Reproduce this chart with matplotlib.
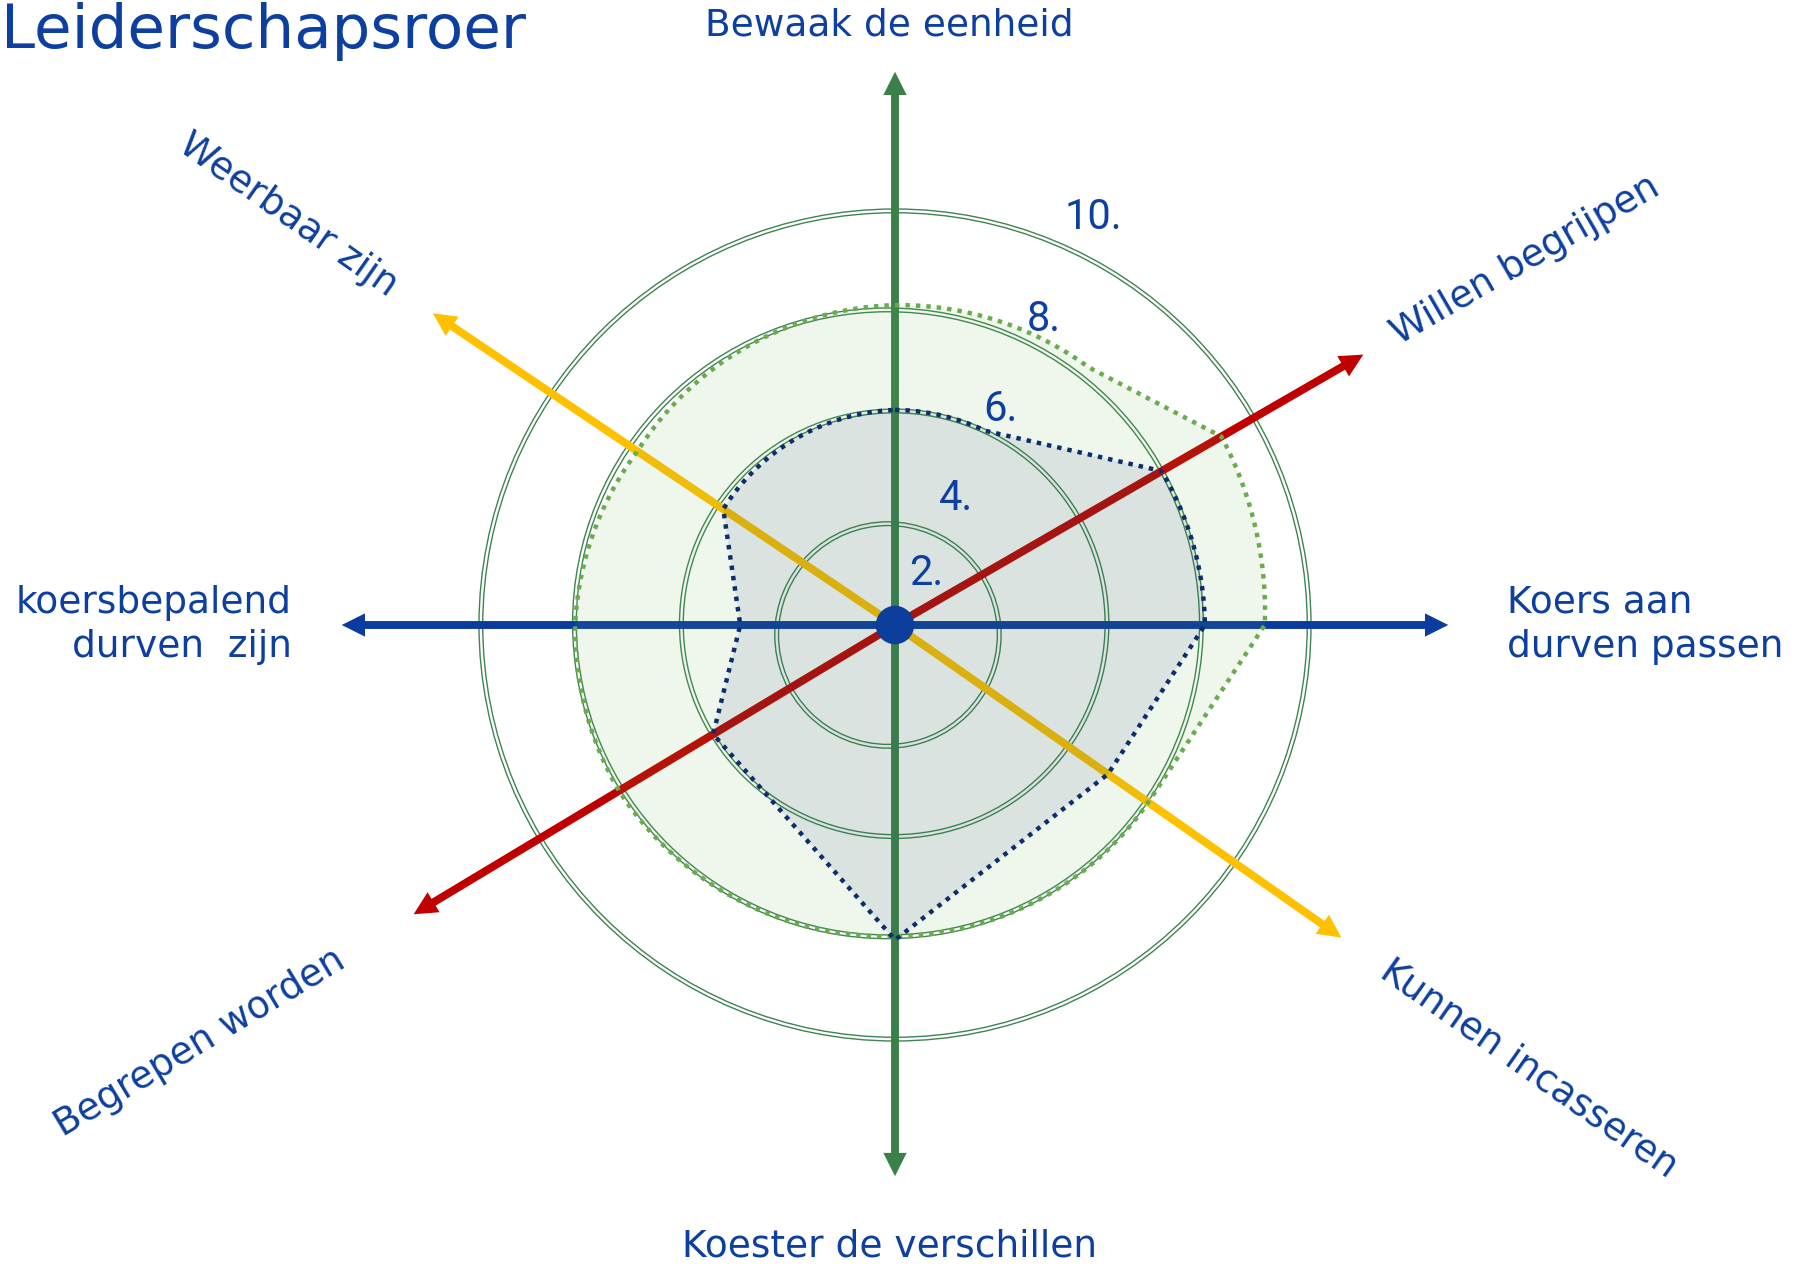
import numpy as np
import matplotlib.pyplot as plt
from matplotlib.patches import Circle

plt.rcParams['font.family'] = ['DejaVu Sans']

# --- DATA ---
axis_names = ['Bewaak de eenheid', 'Willen begrijpen', 'Koers aan\ndurven passen',
              'Kunnen incasseren', 'Koester de verschillen', 'Begrepen worden',
              'koersbepalend\ndurven  zijn', 'Weerbaar zijn']
axis_angles = [90, 30, 0, -35, -90, -149, 180, 146]

ring_levels = [2.72, 5.16, 7.58, 10.0]
ring_labels = ['2.', '4.', '6.', '8.', '10.']

# outline points of the two score shapes (angle in degrees, score)
blue_angles = [90, 65, 30, 0, -35, -90, -149, -180, -214]
blue_values = [5.17, 5.15, 7.40, 7.45, 6.25, 7.57, 5.10, 3.72, 4.98]
green_angles = [90, 53, 30, 0, -34, -90, -149, -180, -214]
green_values = [7.69, 7.75, 9.06, 8.89, 7.43, 7.48, 7.74, 7.69, 7.47]

# --- STYLE ---
W, H = 1794, 1268
CX, CY = 895, 625      # centre of the wheel in pixels
UNIT = 41.6            # pixels per score point

txt_col = '#0D3FA0'
ring_col = '#3E8450'
green_ax = '#3A8048'
blue_ax = '#0A3CA0'
red_ax = '#C00000'
yellow_ax = '#FFC000'
axis_colors = [green_ax, red_ax, blue_ax, yellow_ax, green_ax, red_ax, blue_ax, yellow_ax]
arrow_len = [13.3, 13.0, 13.3, 13.1, 13.25, 13.5, 13.3, 13.4]
label_r = [14.4, 17.5, 14.7, 18.6, 14.95, 19.5, 14.5, 17.6]
label_rot = [0, 30, 0, -35, 0, 31, 0, -35]
label_ha = ['center', 'center', 'left', 'center', 'center', 'center', 'right', 'center']
label_dx = [-0.14, 0, 0, 0, -0.14, 0, 0, 0]
# the rings are drawn slightly off-centre in the original
ring_shift = [(-0.17, -0.24), (-0.02, 0.03), (-0.17, 0.04), (0.0, 0.0)]
ring_lab_ang = [59, 64, 64, 64, 64]
ring_lab_r = [1.45, 3.37, 5.77, 8.17, 10.9]

green_line = '#6AAB4F'
navy_line = '#0C2D6E'


def pol(a, r):
    a = np.radians(a)
    return r * np.cos(a), r * np.sin(a)


def outline(angles, values):
    # equal scores are joined along the circle, others with a straight line
    pts = list(zip(angles, values)) + [(angles[0] - 360, values[0])]
    xs, ys = [], []
    for (a1, v1), (a2, v2) in zip(pts[:-1], pts[1:]):
        if abs(v1 - v2) < 0.6:
            t = np.linspace(0, 1, 40)
            a = a1 + (a2 - a1) * t
            r = v1 + (v2 - v1) * t
        else:
            a = np.array([a1, a2])
            r = np.array([v1, v2])
        x, y = pol(a, r)
        xs.extend(x)
        ys.extend(y)
    return xs, ys


fig = plt.figure(figsize=(W / 100, H / 100), dpi=100)
ax = fig.add_axes([0, 0, 1, 1])
ax.set_xlim(-CX / UNIT, (W - CX) / UNIT)
ax.set_ylim(-(H - CY) / UNIT, CY / UNIT)
ax.axis('off')

# double-lined rings
for lvl, (sx, sy) in zip(ring_levels, ring_shift):
    for dr in (0, -0.09):
        ax.add_patch(Circle((sx, sy), lvl + dr, fill=False, ec=ring_col, lw=1.0, zorder=1))

# arrows
for ang, col, ln in zip(axis_angles, axis_colors, arrow_len):
    dx, dy = pol(ang, ln)
    ax.arrow(0, 0, dx, dy, width=0.19, head_width=0.56, head_length=0.56,
             length_includes_head=True, fc=col, ec='none', zorder=2)

# score shapes
gx, gy = outline(green_angles, green_values)
bx, by = outline(blue_angles, blue_values)
ax.fill(gx, gy, color=green_line, alpha=0.107, lw=0, zorder=3)
ax.fill(bx, by, color=navy_line, alpha=0.09, lw=0, zorder=3.1)
ax.plot(gx, gy, color=green_line, lw=3.2, ls=(0, (1, 1.35)), dash_capstyle='butt', zorder=4)
ax.plot(bx, by, color=navy_line, lw=3.2, ls=(0, (1, 1.35)), dash_capstyle='butt', zorder=4.1)

ax.add_patch(Circle((0, 0), 0.445, color='#0B3F9B', zorder=5))

# ring labels
for lab, a, r in zip(ring_labels, ring_lab_ang, ring_lab_r):
    x, y = pol(a, r)
    ax.text(x, y, lab, ha='center', va='center', fontsize=30, color=txt_col,
            family=['Roboto', 'DejaVu Sans'], zorder=6)

# axis labels
for name, ang, r, rot, ha, dx in zip(axis_names, axis_angles, label_r, label_rot,
                                     label_ha, label_dx):
    x, y = pol(ang, r)
    ax.text(x + dx, y, name, ha=ha, va='center', ma=ha if ha != 'center' else 'center',
            rotation=rot, rotation_mode='anchor', fontsize=27, color=txt_col,
            linespacing=1.32, zorder=6)

fig.text(1 / W, 1 - 48 / H, 'Leiderschapsroer', fontsize=44, color=txt_col,
         ha='left', va='baseline')

fig.savefig('out.png', dpi=100)
